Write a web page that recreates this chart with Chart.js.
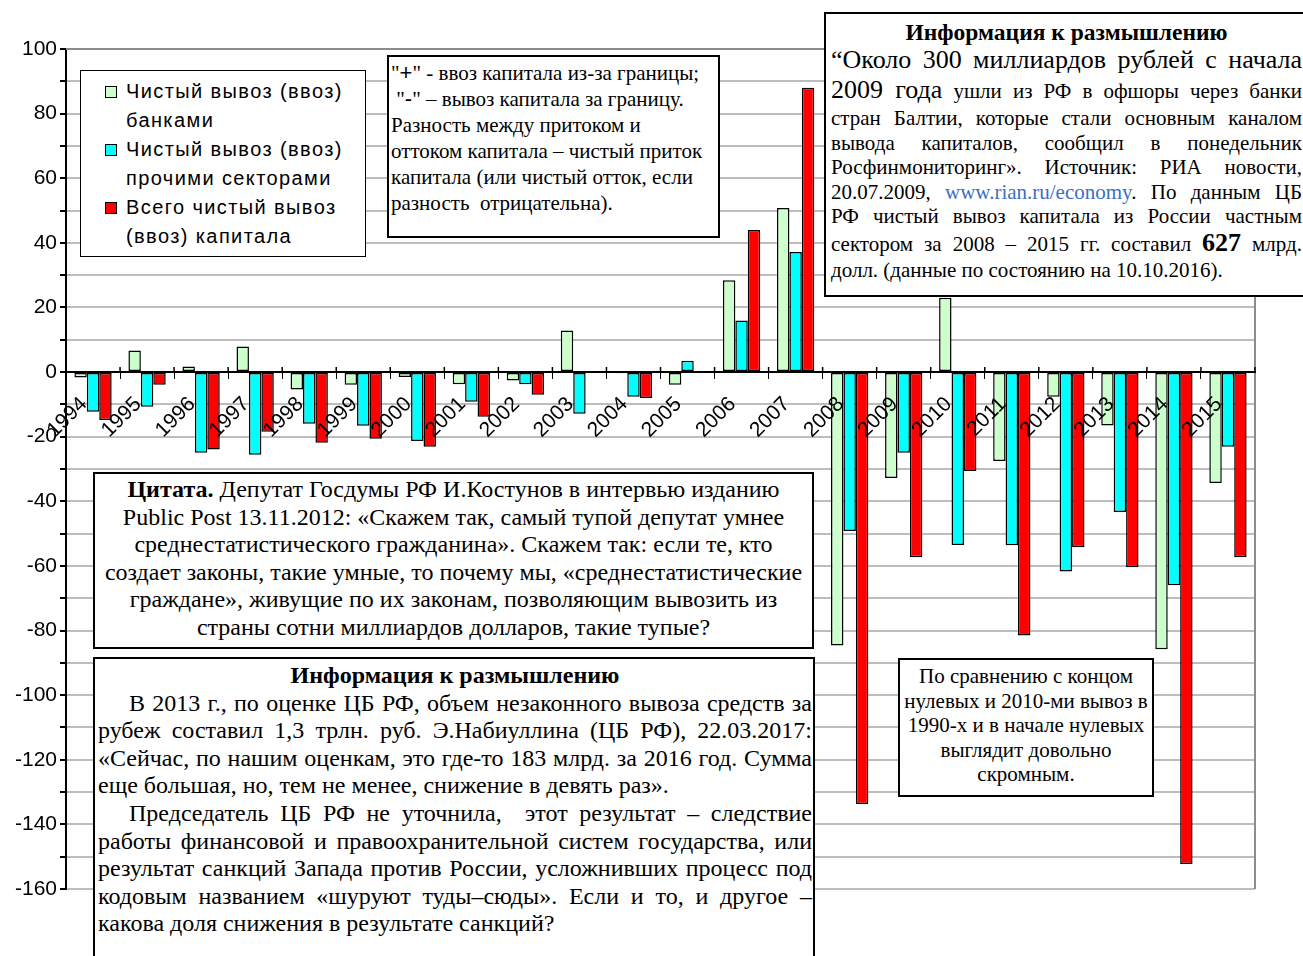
<!DOCTYPE html>
<html>
<head>
<meta charset="utf-8">
<script src="https://cdn.jsdelivr.net/npm/chart.js@4"></script>
<style>
  body { margin: 0; background: #fff; }
  #wrap { position: relative; width: 1303px; height: 956px; overflow: hidden; }
  #chart { position: absolute; left: 0; top: 0; }
  .box { position: absolute; background: #fff; border: 2px solid #000; box-sizing: border-box;
         font-family: "Liberation Serif", "Times New Roman", serif; color: #000; }
  .legend { font-family: "Liberation Sans", Arial, sans-serif; font-size: 20px; letter-spacing: 1.4px;
            line-height: 29px; padding: 6px 0 0 24px; border-width: 1.5px; }
  .legend .item { position: relative; padding-left: 21px; width: 232px; }
  .legend .sw { position: absolute; left: 0; top: 9px; width: 10px; height: 10px; border: 1.5px solid #000; }
  .line { white-space: nowrap; }
  .just { text-align: justify; text-align-last: justify; white-space: normal; }
</style>
</head>
<body>
<div id="wrap">
  <canvas id="chart" width="1303" height="956"></canvas>

  <div class="box legend" id="legend" style="left:80px; top:70px; width:286px; height:187px;"></div>

  <div class="box" style="left:387px; top:55px; width:333px; height:183px; font-size:21px; line-height:26px; padding:3px 0 0 2px;">
    <div class="line">"<span style="font-family:'Liberation Sans';font-size:22px;">+</span>" - ввоз капитала из-за границы;</div>
    <div class="line">&nbsp;"<span style="font-family:'Liberation Sans';font-size:22px;">-</span>" – вывоз капитала за границу.</div>
    <div class="line">Разность между притоком и</div>
    <div class="line">оттоком капитала – чистый приток</div>
    <div class="line">капитала (или чистый отток, если</div>
    <div class="line">разность&nbsp; отрицательна).</div>
  </div>

  <div class="box" style="left:824px; top:12px; width:500px; height:285px; font-size:21px; line-height:24.5px; padding:6px 0 0 5px;">
    <div style="width:471px;">
      <div class="line" style="text-align:center; font-weight:bold; font-size:23.5px; line-height:24px;">Информация к размышлению</div>
      <div class="just" style="font-size:26px; line-height:31px;">“Около 300 миллиардов рублей с начала</div>
      <div class="just" style="line-height:30px;"><span style="font-size:26px;">2009 года</span> ушли из РФ в офшоры через банки</div>
      <div class="just">стран Балтии, которые стали основным каналом</div>
      <div class="just">вывода капиталов, сообщил в понедельник</div>
      <div class="just">Росфинмониторинг». Источник: РИА новости,</div>
      <div class="just">20.07.2009, <span style="color:#3b6fc4;">www.rian.ru/economy</span>. По данным ЦБ</div>
      <div class="just">РФ чистый вывоз капитала из России частным</div>
      <div class="just" style="line-height:28px;">сектором за 2008 – 2015 гг. составил <b style="font-size:26px;">627</b> млрд.</div>
      <div class="line">долл. (данные по состоянию на 10.10.2016).</div>
    </div>
  </div>

  <div class="box" style="left:93px; top:472px; width:721px; height:177px; font-size:24px; line-height:27.6px; padding:2px 0 0 0; text-align:center;">
    <div class="line"><b>Цитата.</b> Депутат Госдумы РФ И.Костунов в интервью изданию</div>
    <div class="line">Public Post 13.11.2012: «Скажем так, самый тупой депутат умнее</div>
    <div class="line">среднестатистического гражданина». Скажем так: если те, кто</div>
    <div class="line">создает законы, такие умные, то почему мы, «среднестатистические</div>
    <div class="line">граждане», живущие по их законам, позволяющим вывозить из</div>
    <div class="line">страны сотни миллиардов долларов, такие тупые?</div>
  </div>

  <div class="box" style="left:93px; top:657px; width:722px; height:320px; font-size:24px; line-height:27.6px; padding:3px 0 0 3px;">
    <div style="width:714px;">
      <div class="line" style="text-align:center; font-weight:bold;">Информация к размышлению</div>
      <div class="just" style="text-indent:31px;">В 2013 г., по оценке ЦБ РФ, объем незаконного вывоза средств за</div>
      <div class="just">рубеж составил 1,3 трлн. руб. Э.Набиуллина (ЦБ РФ), 22.03.2017:</div>
      <div class="just">«Сейчас, по нашим оценкам, это где-то 183 млрд. за 2016 год. Сумма</div>
      <div class="line">еще большая, но, тем не менее, снижение в девять раз».</div>
      <div class="just" style="text-indent:31px;">Председатель ЦБ РФ не уточнила,&nbsp; этот результат – следствие</div>
      <div class="just">работы финансовой и правоохранительной систем государства, или</div>
      <div class="just">результат санкций Запада против России, усложнивших процесс под</div>
      <div class="just">кодовым названием «шуруют туды–сюды». Если и то, и другое –</div>
      <div class="line">какова доля снижения в результате санкций?</div>
    </div>
  </div>

  <div class="box" style="left:898px; top:658px; width:256px; height:139px; font-size:21px; line-height:24.5px; padding:4px 0 0 0; text-align:center;">
    <div class="line">По сравнению с концом</div>
    <div class="line">нулевых и 2010-ми вывоз в</div>
    <div class="line">1990-х и в начале нулевых</div>
    <div class="line">выглядит довольно</div>
    <div class="line">скромным.</div>
  </div>
</div>

<script>
// years on the category axis
const years = ['1994', '1995', '1996', '1997', '1998', '1999', '2000', '2001', '2002', '2003', '2004',
               '2005', '2006', '2007', '2008', '2009', '2010', '2011', '2012', '2013', '2014', '2015'];

// net capital flows, bn USD ("+" inflow, "-" outflow)
const banks = [-1.7, 6.7, 1.7, 7.9, -5.4, -3.9, -1.5, -3.8, -2.6, 12.9, -0.4,
               -3.9, 28.4, 50.8, -84.6, -32.8, 23.0, -27.5, -7.6, -16.5, -85.8, -34.3];
const otherSectors = [-12.3, -10.7, -25.0, -25.6, -16.0, -16.6, -21.3, -9.2, -3.8, -12.9, -7.6,
                      3.5, 16.0, 37.2, -49.2, -25.0, -53.5, -53.6, -61.7, -43.3, -66.0, -23.1];
const total = [-14.8, -3.9, -24.0, -18.5, -21.9, -20.6, -23.1, -13.8, -7.0, 0.0, -8.0,
               0.0, 44.0, 88.0, -133.7, -57.3, -30.6, -81.5, -54.2, -60.4, -152.3, -57.3];

const seriesLabels = ['Чистый вывоз (ввоз) банками', 'Чистый вывоз (ввоз) прочими секторами', 'Всего чистый вывоз (ввоз) капитала'];
const seriesColors = ['#ccffcc', '#00ffff', '#ff0000'];

// y axis range
const yMin = -160, yMax = 100;

function main() {
    const series = [banks, otherSectors, total];

    // legend built from the same labels/colors as the datasets
    const legendBox = document.querySelector('#legend');
    seriesLabels.forEach((label, i) => {
        const item = document.createElement('div');
        item.className = 'item';
        item.innerHTML = '<span class="sw" style="background:' + seriesColors[i] + '"></span>' + label;
        legendBox.appendChild(item);
    });

    // gray frame around the plot area like in Excel, plus the little
    // category tick marks that poke up above the zero axis
    const plotFrame = {
        id: 'plotFrame',
        beforeDatasetsDraw(chart) {
            const { ctx, chartArea, scales } = chart;
            ctx.save();
            ctx.strokeStyle = '#8c8c8c';
            ctx.lineWidth = 2;
            ctx.beginPath();
            ctx.moveTo(chartArea.left, chartArea.top);
            ctx.lineTo(chartArea.right, chartArea.top);
            ctx.lineTo(chartArea.right, chartArea.bottom);
            ctx.stroke();

            const zeroY = scales.y.getPixelForValue(0);
            ctx.strokeStyle = '#000';
            ctx.lineWidth = 1.5;
            ctx.beginPath();
            for (let i = 1; i <= years.length; i++) {
                const x = scales.x.getPixelForTick(i - 1) + (scales.x.getPixelForTick(1) - scales.x.getPixelForTick(0)) / 2;
                ctx.moveTo(x, zeroY - 5);
                ctx.lineTo(x, zeroY);
            }
            ctx.stroke();
            ctx.restore();
        }
    };

    new Chart(document.querySelector('#chart').getContext('2d'), {
        type: 'bar',
        data: {
            labels: years,
            datasets: series.map((values, i) => ({
                label: seriesLabels[i],
                data: values,
                backgroundColor: seriesColors[i],
                borderColor: '#000',
                borderWidth: 1.5,
                borderSkipped: false,
                categoryPercentage: 0.69,
                barPercentage: 1.0
            }))
        },
        options: {
            responsive: false,
            animation: false,
            layout: { padding: { top: 49, right: 48, bottom: 67, left: 0 } },
            plugins: { legend: { display: false }, tooltip: { enabled: false } },
            scales: {
                x: {
                    position: { y: 0 },
                    grid: { drawOnChartArea: false, drawTicks: true, tickLength: 6, tickColor: '#000', offset: true },
                    border: { color: '#000', width: 2, z: 1 },
                    ticks: {
                        z: 1, // year labels sit on top of the bars like in the original
                        autoSkip: false, minRotation: 45, maxRotation: 45, padding: 14, labelOffset: -9,
                        color: '#000', font: { family: 'Liberation Sans', size: 21 }
                    }
                },
                y: {
                    min: yMin, max: yMax,
                    afterFit(scale) { scale.width = 66; },
                    grid: { color: '#bdbdbd', lineWidth: 2, tickColor: '#000', tickLength: 6 },
                    border: { color: '#000', width: 2 },
                    ticks: {
                        stepSize: 10, padding: 3, color: '#000',
                        font: { family: 'Liberation Sans', size: 21 },
                        callback: v => (v % 20 === 0 ? v : '')
                    }
                }
            }
        },
        plugins: [plotFrame]
    });
}

main();
</script>
</body>
</html>
